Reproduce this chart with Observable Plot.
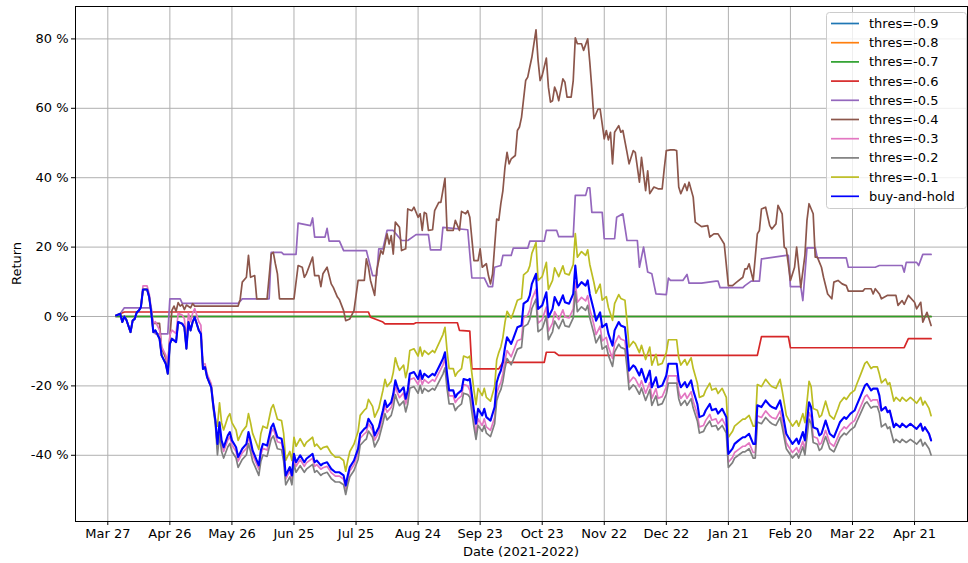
<!DOCTYPE html>
<html>
<head>
<meta charset="utf-8">
<script src="https://cdn.jsdelivr.net/npm/d3@7"></script>
<script src="https://cdn.jsdelivr.net/npm/@observablehq/plot@0.6"></script>
<style>
  body { margin: 0; background: #fff; }
  #chart { width: 968px; height: 563px; }
</style>
</head>
<body>
<div id="chart"></div>
<script>
// Cumulative return of the threshold strategies vs. buy-and-hold, 2021-03-31 .. 2022-04-30.
// Dates are given as day offsets from the first trading day.
const startDay = "2021-03-31";

const xTickDates = ["2021-03-27", "2021-04-26", "2021-05-26", "2021-06-25", "2021-07-25", "2021-08-24",
  "2021-09-23", "2021-10-23", "2021-11-22", "2021-12-22", "2022-01-21", "2022-02-20", "2022-03-22", "2022-04-21"];
const yTicks = [-40, -20, 0, 20, 40, 60, 80];

// Shared day grid for the daily-tracking series
const days = [
  0, 2, 3, 4, 5, 7, 8, 9, 10, 11, 12,
  13, 15, 16, 17,
  18, 19, 21, 22, 24, 25, 26, 27, 29, 30, 32, 33, 34, 35, 36, 37, 38, 40, 41,
  42, 43, 44, 46, 47, 48,
  49, 50, 51, 52, 54, 55, 56, 58, 59, 61, 63, 64, 65, 66, 67, 69, 70, 71, 73, 75,
  76, 78, 80, 81, 82, 84, 85, 86, 87, 89, 91, 92, 95, 96, 97, 99, 100, 102, 104, 106,
  108, 110, 111, 112, 113, 115, 117, 118, 120, 121, 122, 124, 125, 127, 129, 130, 131, 133, 134, 135,
  136, 137, 139, 140, 141, 142, 144, 146, 147, 148, 149, 151, 153, 154, 156, 158, 159, 160, 161, 163,
  164, 165, 167, 168, 170,
  171, 173, 174, 175, 177, 178, 179, 181, 183, 184, 185, 186, 187, 188, 189, 191, 192, 194, 196, 197,
  199, 200, 201, 203, 204, 206, 208, 209, 211, 212, 214, 216, 217, 219, 221, 222, 223, 225, 227, 228,
  229, 231, 232, 234, 235, 237, 238, 240, 241, 243, 244, 246, 247, 248, 250, 251, 253, 254, 256, 258,
  259, 261, 262, 264, 266, 267, 269, 271, 272, 273, 275, 276, 278, 279, 281, 282, 284, 285, 287, 288,
  290, 291, 293, 295, 296, 298, 299, 301, 303, 304, 306, 308, 309, 310, 312, 314, 316, 317, 319, 321,
  322, 324, 325, 327, 329, 330, 332, 333, 335, 336, 337, 339, 340, 341, 343, 344, 345, 347, 349, 350,
  352, 353, 355, 357, 358, 360, 362, 363, 365, 366, 368, 369,
  370, 372, 373, 374, 376, 377, 379, 380, 382, 384, 386, 387, 389, 390, 391, 393, 394
];

const buyHold = [
  0.3, 0.8, -1.6, 0, -1, -4.5, -1.2, -0.7, 1.2, 1.7, 2.7,
  7.8, 7.8, 5.6, 1.2,
  -4.5, -4, -6.4, -11.2, -13.6, -16.5, -7.9, -6.4, -7.4, -1.6, -2.1, -3.1, -9.3, -1.6, -4, -1.6, -0.2, -4, -5,
  -15.1, -14.6, -17.5, -20.4, -25.6, -30,
  -36.7, -30.5, -35.7, -37.7, -34.3, -33.3, -35.7, -37.7, -40.5, -38.1, -36.7, -33.3, -35.7, -38.6, -40, -42.9, -38.6, -36.7, -37.2, -31.9,
  -30.9, -34.8, -35.2, -38.6, -45.8, -43.4, -45.8, -39.6, -42, -40, -42, -41, -39.6, -42, -41.5, -42.9, -42.4, -42, -43.9, -44.9,
  -44.9, -45.8, -48.7, -45.8, -43.4, -41.5, -38.1, -33.8, -32.4, -31.9, -29.5, -31.4, -34.3, -31.9, -27.1, -24.2, -26.1, -24.7, -22.3, -18.4,
  -20.4, -21.8, -20.4, -23.7, -21.3, -16.5, -16, -18, -15.6, -18, -16.5, -17.5, -16.5, -17, -14.6, -12.2, -10.3, -16.5, -21.3, -21.3,
  -23.3, -22.3, -21.3, -18, -18.4,
  -18, -27.1, -30.9, -26.6, -28.5, -26.6, -29, -30, -26.1, -19, -17, -15.6, -13, -9, -6, -7.9, -6.4, -3.1, -2.6, 3.7,
  4.6, 6.1, 9.4, 12.3, 2.2, 3.2, 7, -0.2, 2.2, 5.6, 3.2, 6.1, 4.1, 3.7, 6.5, 14.7, 8.4, 9.9, 8.9, 10.4,
  6.5, 1.7, -1.2, 1.2, -3.1, -2.1, -5, -8.4, -4, -1.6, -2.6, -3.1, -8.8, -15.6, -14.1, -14.6, -17, -15.1, -18.9, -15.6,
  -20.4, -17.5, -20.4, -19.9, -17, -13.6, -13.6, -13.6, -18.4, -20.4, -18.9, -20.4, -18.4, -21.3, -25.2, -29, -28.5, -27.1, -25.2, -27,
  -26.6, -28, -26.6, -29, -39.6, -38.1, -36.7, -35.7, -34.8, -34.8, -33.8, -36.7, -36.7, -25.6, -26.1, -24.2, -25.6, -26.1, -26.6, -24.2,
  -27.1, -33.8, -34.8, -36.7, -35.2, -36.7, -33.3, -35.7, -24.7, -26.1, -31.9, -32.4, -34.3, -33.8, -30, -31.9, -33.8, -34.8, -31.9, -30.4,
  -29, -29.5, -28, -27.1, -25.6, -22.8, -19.9, -19.4, -21.3, -20.8, -20.8, -22.8,
  -27.1, -26.1, -27.6, -27.1, -31.9, -30.9, -31.9, -30.9, -31.9, -30.9, -31.9, -32.4, -30.9, -32.9, -31.9, -33.8, -35.7
];

const thres01 = [
  0.3, 0.8, -1.6, 0, -1, -4.5, -1.2, -0.7, 1.2, 1.7, 2.7,
  7.8, 7.8, 5.6, 1.2,
  -4.5, -4, -6.4, -11.2, -13.6, -16.5, -7.9, -6.4, -7.4, -1.6, -2.1, -3.1, -9.3, -1.6, -4, -1.6, -0.2, -4, -5,
  -15.1, -14.6, -17.5, -20.4, -25.6, -30,
  -31.6, -24.9, -30.6, -32.7, -29.0, -28.0, -30.6, -32.7, -35.7, -33.1, -31.6, -28.0, -30.6, -33.7, -35.2, -38.3, -33.7, -31.6, -32.2, -26.5,
  -25.4, -29.6, -30.0, -33.7, -41.5, -38.9, -41.5, -34.8, -37.4, -35.2, -37.4, -36.3, -34.8, -37.4, -36.8, -38.3, -37.8, -37.4, -39.4, -40.5,
  -40.5, -41.5, -44.6, -41.5, -38.9, -36.8, -33.1, -28.5, -27.0, -26.5, -23.9, -25.9, -29.0, -26.5, -21.3, -18.1, -20.2, -18.7, -16.1, -11.9,
  -14.0, -15.5, -14.0, -17.6, -15.0, -9.8, -9.3, -11.4, -8.8, -11.4, -9.8, -10.9, -9.8, -10.4, -7.8, -5.2, -3.1, -9.8, -15.0, -15.0,
  -17.2, -16.1, -15.0, -11.4, -11.9,
  -11.4, -21.3, -25.4, -20.7, -22.8, -20.7, -23.3, -24.4, -20.2, -12.5, -10.4, -8.8, -6.0, -1.7, 1.5, -0.5, 1.1, 4.7, 5.2, 12.0,
  13.0, 14.6, 18.2, 21.3, 10.4, 11.5, 15.6, 7.8, 10.4, 14.0, 11.5, 14.6, 12.4, 12.0, 15.0, 23.9, 17.1, 18.7, 17.6, 19.2,
  15.0, 9.8, 6.7, 9.3, 4.7, 5.7, 2.6, -1.1, 3.7, 6.3, 5.2, 4.7, -1.5, -8.8, -7.2, -7.8, -10.4, -8.3, -12.4, -8.8,
  -14.0, -10.9, -14.0, -13.5, -10.4, -6.7, -6.7, -6.7, -11.9, -14.0, -12.4, -14.0, -11.9, -15.0, -19.2, -23.3, -22.8, -21.3, -19.2, -21.2,
  -20.7, -22.2, -20.7, -23.3, -34.8, -33.1, -31.6, -30.6, -29.6, -29.6, -28.5, -31.6, -31.6, -19.6, -20.2, -18.1, -19.6, -20.2, -20.7, -18.1,
  -21.3, -28.5, -29.6, -31.6, -30.0, -31.6, -28.0, -30.6, -18.7, -20.2, -26.5, -27.0, -29.0, -28.5, -24.4, -26.5, -28.5, -29.6, -26.5, -24.8,
  -23.3, -23.9, -22.2, -21.3, -19.6, -16.6, -13.5, -13.0, -15.0, -14.5, -14.5, -16.6,
  -19.1, -18.0, -19.6, -19.1, -24.4, -23.3, -24.4, -23.3, -24.4, -23.3, -24.4, -25.0, -23.3, -25.5, -24.4, -26.5, -28.6
];

const thres02 = [
  0.3, 0.8, -1.6, 0, -1, -4.5, -1.2, -0.7, 1.2, 1.7, 2.7,
  7.8, 7.8, 5.6, 1.2,
  -4.5, -4, -6.4, -11.2, -13.6, -16.5, -7.9, -6.4, -7.4, -1.6, -2.1, -3.1, -9.3, -1.6, -4, -1.6, -0.2, -4, -5,
  -15.1, -14.6, -17.5, -20.4, -26.6, -31,
  -39.9, -34.0, -38.9, -40.8, -37.6, -36.6, -38.9, -40.8, -43.5, -41.2, -39.9, -36.6, -38.9, -41.7, -43.0, -45.8, -41.7, -39.9, -40.3, -35.3,
  -34.4, -38.1, -38.4, -41.7, -48.5, -46.2, -48.5, -42.6, -44.9, -43.0, -44.9, -44.0, -42.6, -44.9, -44.4, -45.8, -45.3, -44.9, -46.7, -47.7,
  -47.7, -48.5, -51.3, -48.5, -46.2, -44.4, -41.2, -37.1, -35.8, -35.3, -33.0, -34.8, -37.6, -35.3, -30.7, -28.0, -29.8, -28.5, -26.2, -22.5,
  -24.4, -25.7, -24.4, -27.5, -25.2, -20.7, -20.2, -22.1, -19.8, -22.1, -20.7, -21.6, -20.7, -21.2, -18.9, -16.6, -14.8, -20.7, -25.2, -25.2,
  -27.1, -26.2, -25.2, -22.1, -22.5,
  -23.3, -31.8, -35.4, -31.4, -33.1, -31.4, -33.6, -34.6, -30.9, -24.3, -22.4, -21.1, -18.7, -14.9, -12.1, -13.9, -12.5, -9.4, -8.9, -3.0,
  -2.2, -0.8, 2.3, 5.0, -4.4, -3.5, 0.0, -6.7, -4.4, -1.3, -3.5, -0.8, -2.7, -3.0, -0.4, 7.2, 1.4, 2.8, 1.8, 3.2,
  -0.4, -4.9, -7.6, -5.4, -9.4, -8.5, -11.2, -14.4, -10.2, -8.0, -8.9, -9.4, -14.7, -21.1, -19.7, -20.2, -22.4, -20.6, -24.2, -21.1,
  -25.6, -22.9, -25.6, -25.1, -22.4, -19.2, -19.2, -19.2, -23.7, -25.6, -24.2, -25.6, -23.7, -26.4, -30.1, -33.6, -33.1, -31.8, -30.1, -31.7,
  -31.4, -32.7, -31.4, -33.6, -43.5, -42.1, -40.8, -39.9, -39.0, -39.0, -38.1, -40.8, -40.8, -30.4, -30.9, -29.1, -30.4, -30.9, -31.4, -29.1,
  -31.8, -38.1, -39.0, -40.8, -39.4, -40.8, -37.6, -39.9, -29.6, -30.9, -36.3, -36.8, -38.6, -38.1, -34.6, -36.3, -38.1, -39.0, -36.3, -34.9,
  -33.6, -34.1, -32.7, -31.8, -30.4, -27.8, -25.1, -24.6, -26.4, -26.0, -26.0, -27.8,
  -31.8, -30.9, -32.3, -31.8, -36.3, -35.4, -36.3, -35.4, -36.3, -35.4, -36.3, -36.8, -35.4, -37.3, -36.3, -38.1, -39.9
];

const thres03 = [
  0.3, 0.8, -1.6, 0, -1, -4.5, -1.2, -0.7, 1.2, 1.7, 2.7,
  8.8, 8.8, 6.6, 2.2,
  -2, -1.5, -3.9, -8.7, -11.1, -14, -5.4, -3.9, -4.9, 0.9, 0.4, -0.6, -6.8, 0.9, -1.5, 0.9, 2.3, -1.5, -2.5,
  -14.1, -13.6, -16.5, -19.4, -25.1, -29.5,
  -38.0, -31.9, -37.0, -38.9, -35.6, -34.6, -37.0, -38.9, -41.7, -39.3, -38.0, -34.6, -37.0, -39.8, -41.2, -44.0, -39.8, -38.0, -38.5, -33.3,
  -32.3, -36.1, -36.5, -39.8, -46.9, -44.5, -46.9, -40.8, -43.2, -41.2, -43.2, -42.2, -40.8, -43.2, -42.7, -44.0, -43.6, -43.2, -45.0, -46.0,
  -46.0, -46.9, -49.7, -46.9, -44.5, -42.7, -39.3, -35.1, -33.8, -33.3, -30.9, -32.8, -35.6, -33.3, -28.6, -25.7, -27.6, -26.2, -23.9, -20.0,
  -22.0, -23.4, -22.0, -25.2, -22.9, -18.2, -17.7, -19.6, -17.3, -19.6, -18.2, -19.2, -18.2, -18.7, -16.3, -14.0, -12.1, -18.2, -22.9, -22.9,
  -24.8, -23.9, -22.9, -19.6, -20.0,
  -21.3, -30.0, -33.7, -29.5, -31.4, -29.5, -31.8, -32.8, -29.1, -22.2, -20.3, -19.0, -16.5, -12.6, -9.8, -11.6, -10.1, -7.0, -6.5, -0.4,
  0.4, 1.9, 5.0, 7.8, -1.9, -0.9, 2.7, -4.2, -1.9, 1.4, -0.9, 1.9, -0.1, -0.4, 2.2, 10.1, 4.1, 5.5, 4.5, 6.0,
  2.2, -2.4, -5.2, -2.8, -7.0, -6.0, -8.8, -12.1, -7.8, -5.5, -6.5, -7.0, -12.4, -19.0, -17.5, -18.0, -20.3, -18.5, -22.1, -19.0,
  -23.6, -20.8, -23.6, -23.1, -20.3, -17.1, -17.1, -17.1, -21.7, -23.6, -22.1, -23.6, -21.7, -24.4, -28.2, -31.8, -31.4, -30.0, -28.2, -29.9,
  -29.5, -30.9, -29.5, -31.8, -42.0, -40.6, -39.2, -38.3, -37.4, -37.4, -36.4, -39.2, -39.2, -28.6, -29.1, -27.2, -28.6, -29.1, -29.5, -27.2,
  -30.0, -36.4, -37.4, -39.2, -37.8, -39.2, -36.0, -38.3, -27.7, -29.1, -34.6, -35.1, -36.9, -36.4, -32.8, -34.6, -36.4, -37.4, -34.6, -33.2,
  -31.8, -32.3, -30.9, -30.0, -28.6, -25.9, -23.1, -22.6, -24.4, -24.0, -24.0, -25.9,
  -27.1, -26.1, -27.6, -27.1, -31.9, -30.9, -31.9, -30.9, -31.9, -30.9, -31.9, -32.4, -30.9, -32.9, -31.9, -33.8, -35.7
];

// Strategies that spend long stretches out of the market: [day, return %]
const thres04 = [
  [0, 0.3], [2, 0.8], [3, -1.6], [4, 0], [5, -1], [7, -4.5], [8, -1.2], [9, -0.7], [10, 1.2], [11, 1.7], [12, 2.7],
  [13, 7.8], [15, 7.8], [16, 5.6], [17, 1.2], [18, -2], [21, -2], [22, -9], [24, -12], [25, -14], [26, -6], [27, 1.8],
  [28, 3], [29, 1.5], [30, 4], [31, 3], [32, 3.5], [33, 2], [34, 3.3], [36, 2.5], [37, 3.7], [38, 3], [59, 3], [60, 5],
  [61, 9.9], [63, 11.3], [64, 17.6], [65, 11.3], [67, 11.8], [68, 5.1], [73, 5.1], [75, 18], [76, 18.5], [77, 15.2],
  [78, 12.3], [79, 5.1], [86, 5.1], [88, 14.7], [90, 14.2], [91, 11.3], [92, 12.3], [95, 17.1], [96, 11.8], [98, 11.8],
  [99, 8.6], [100, 12.3], [102, 14.2], [104, 9.4], [105, 8.4], [107, 5.6], [108, 4.8], [110, 1.7], [111, -1.2], [113, -0.7],
  [115, 1.7], [117, 10.4], [120, 10.4], [121, 16.6], [122, 14.2], [123, 10.4], [125, 6.1], [126, 13.3], [128, 19], [129, 18],
  [131, 23.8], [132, 20.9], [133, 23.3], [134, 18], [135, 27.2], [137, 25.7], [138, 19], [140, 19.5], [141, 31], [143, 30.5],
  [144, 31.5], [146, 28.6], [147, 29.6], [148, 24.8], [149, 30], [150, 29.6], [151, 24.8], [153, 25], [154, 30.5], [156, 32.9],
  [157, 32.9], [159, 39.8], [160, 24.8], [163, 24.8], [164, 27.7], [166, 24.8], [167, 30.3], [169, 29.6], [170, 30.5], [171, 28.6],
  [173, 16.1], [175, 16.1], [176, 19.5], [177, 14.2], [179, 15.2], [180, 11.8], [181, 9.4], [182, 12.3], [184, 28.1], [185, 27.7],
  [186, 32.5], [187, 36.3], [188, 43], [189, 47.3], [190, 44], [191, 45.4], [193, 46.4], [194, 53.6], [195, 54.6], [196, 57.4],
  [198, 68], [199, 69], [200, 71.9], [201, 74.7], [203, 82.6], [204, 73.8], [205, 68], [206, 69.5], [208, 74.5], [209, 66.1],
  [210, 61.8], [211, 62.2], [212, 66.1], [213, 64.6], [214, 62.2], [216, 68.5], [217, 67.5], [218, 63.2], [220, 63.2], [221, 68],
  [222, 80.3], [223, 78.6], [225, 78.6], [226, 76.7], [228, 80], [229, 73.3], [230, 65.6], [231, 57], [233, 59.8], [234, 59.8],
  [236, 51.2], [237, 53.6], [238, 50.9], [239, 53.1], [240, 44], [241, 53.1], [243, 55], [244, 53.1], [245, 53.6], [247, 47.3],
  [248, 44], [250, 47.8], [251, 47.3], [253, 38.7], [254, 45.9], [256, 36.3], [257, 42], [258, 35.4], [260, 37.3], [262, 36.8],
  [264, 36.8], [265, 42.6], [266, 47.8], [268, 48], [270, 48], [271, 47.8], [272, 37.3], [273, 35.4], [275, 38.2], [276, 36.3],
  [277, 38.7], [279, 34.4], [280, 27.2], [283, 25.9], [286, 26.2], [287, 22.9], [289, 23.8], [291, 23.8], [294, 20.9], [296, 8.9],
  [298, 8.9], [300, 9.9], [303, 11.3], [304, 13.7], [305, 13.7], [306, 15.2], [308, 10.4], [310, 23.8], [311, 24.8], [312, 31],
  [314, 31.5], [316, 26.2], [317, 25.2], [319, 26.7], [320, 32], [322, 29.6], [323, 20], [324, 19.5], [326, 10.4], [328, 14.2],
  [329, 20], [331, 8.4], [333, 17.6], [334, 27.7], [335, 32.5], [337, 29.6], [338, 17.1], [339, 17.1], [341, 14.2], [342, 11.3],
  [344, 6.5], [346, 5.1], [347, 9.9], [349, 10.4], [351, 9.4], [353, 8.9], [354, 7.3], [361, 7.3], [362, 8], [365, 8],
  [366, 6.5], [367, 8], [369, 6.5], [370, 5.1], [373, 6.1], [377, 6.1], [378, 3.2], [380, 4.6], [381, 3.5], [383, 6.1],
  [386, 4.1], [387, 2.2], [389, 4.1], [390, -1.6], [392, 1.2], [394, -2.6]
];

const thres05 = [
  [0, 0.3], [2, 0.8], [4, 2.5], [17, 2.5], [18, -4], [19, -5], [25, -5], [26, 5.1], [31, 5.1], [32, 3.8],
  [59, 3.8], [61, 5.1], [74, 5.1], [75, 18.5], [80, 18.5], [81, 17.9], [87, 17.9], [88, 26.9], [94, 26.2], [95, 28.4],
  [96, 22.9], [101, 22.9], [102, 25.4], [103, 21.7], [108, 21.7], [110, 19], [121, 19], [124, 11.8], [126, 11.8], [127, 19.5],
  [129, 19.5], [131, 24.8], [134, 24.8], [138, 21.9], [141, 21.9], [145, 23.6], [151, 23.6], [152, 19.2], [157, 19.2], [158, 25.7],
  [170, 25], [172, 11.1], [178, 11.1], [180, 8.6], [182, 8.6], [183, 14.2], [186, 14.7], [187, 17.6], [191, 17.6], [192, 19.7],
  [199, 19.7], [200, 21.7], [207, 21.7], [208, 24.8], [213, 24.8], [214, 23], [221, 23], [222, 34.9], [227, 34.9], [228, 37.1],
  [229, 37.1], [230, 30], [235, 30], [236, 22.4], [241, 22.4], [242, 28.6], [245, 29.6], [247, 21.9], [252, 21.9], [253, 14.2],
  [255, 20], [257, 12.8], [259, 12.3], [261, 6.5], [266, 6.3], [267, 11.1], [268, 10.4], [274, 10.4], [276, 12.1], [277, 9.6],
  [283, 9.6], [290, 10.2], [291, 10.2], [292, 8.3], [303, 8.3], [304, 8.9], [307, 10.2], [311, 10.2], [312, 16.6], [324, 17.6],
  [325, 17.6], [326, 8.6], [331, 8.6], [332, 4.6], [334, 19.8], [338, 19.8], [339, 16.9], [353, 16.9], [354, 14.2], [367, 14.2],
  [369, 14.7], [380, 14.7], [381, 12.8], [382, 15.6], [387, 15.6], [388, 14.7], [390, 17.9], [394, 17.9]
];

const thres06 = [
  [0, 0.3], [2, 0.8], [4, 1.3], [122, 1.3], [123, -0.2], [129, -1.6], [130, -2.1], [144, -2.1], [145, -1.8], [165, -1.8],
  [166, -4], [171, -4.2], [172, -15.1], [185, -15.1], [187, -13.2], [207, -13.2], [208, -10.3], [212, -10.3], [214, -11.2], [310, -11.2],
  [312, -5.8], [325, -5.8], [326, -9], [381, -9], [383, -6.4], [394, -6.4]
];

// These three never entered the market
const thres07 = [[0, 0], [394, 0]];
const thres08 = [[0, 0], [394, 0]];
const thres09 = [[0, 0], [394, 0]];

const DAY = 864e5;
const t0 = Date.parse(startDay + "T00:00:00Z");
const toDate = d => new Date(t0 + d * DAY);

const fromGrid = vals => days.map((d, i) => ({date: toDate(d), value: vals[i]}));
const fromPairs = pairs => pairs.map(([d, v]) => ({date: toDate(d), value: v}));

// Drawing order: first listed is drawn first (underneath)
const series = [
  {label: "thres=-0.9", color: "#1f77b4", width: 1.7, rows: fromPairs(thres09)},
  {label: "thres=-0.8", color: "#ff7f0e", width: 1.7, rows: fromPairs(thres08)},
  {label: "thres=-0.7", color: "#2ca02c", width: 1.7, rows: fromPairs(thres07)},
  {label: "thres=-0.6", color: "#d62728", width: 1.7, rows: fromPairs(thres06)},
  {label: "thres=-0.5", color: "#9467bd", width: 1.7, rows: fromPairs(thres05)},
  {label: "thres=-0.4", color: "#8c564b", width: 1.7, rows: fromPairs(thres04)},
  {label: "thres=-0.3", color: "#e377c2", width: 1.7, rows: fromGrid(thres03)},
  {label: "thres=-0.2", color: "#7f7f7f", width: 1.7, rows: fromGrid(thres02)},
  {label: "thres=-0.1", color: "#bcbd22", width: 1.7, rows: fromGrid(thres01)},
  {label: "buy-and-hold", color: "#0000ff", width: 2.1, rows: fromGrid(buyHold)}
];

const xTicks = xTickDates.map(s => new Date(s + "T00:00:00Z"));
const fmtDate = d3.utcFormat("%b %d");

const chart = Plot.plot({
  width: 968,
  height: 563,
  marginLeft: 75,
  marginRight: 1,
  marginTop: 6,
  marginBottom: 42,
  style: {fontFamily: "DejaVu Sans, sans-serif", fontSize: "13px", color: "#000", background: "#fff"},
  x: {type: "utc", domain: [toDate(-19.62), toDate(411.6)]},
  y: {domain: [-59.08, 89.34]},
  marks: [
    Plot.gridX(xTicks, {stroke: "#b0b0b0", strokeOpacity: 1, strokeWidth: 1}),
    Plot.gridY(yTicks, {stroke: "#b0b0b0", strokeOpacity: 1, strokeWidth: 1}),
    ...series.map(s => Plot.line(s.rows, {x: "date", y: "value", stroke: s.color, strokeWidth: s.width})),
    Plot.frame({stroke: "#000", strokeWidth: 1}),
    Plot.axisX(xTicks, {tickFormat: fmtDate, tickSize: 4, tickPadding: 3, label: null, fontSize: 13}),
    Plot.axisY(yTicks, {tickFormat: d => `${d} %`, tickSize: 4, tickPadding: 3, label: null, fontSize: 13})
  ]
});

document.getElementById("chart").appendChild(chart);

// Axis titles and legend
const svg = d3.select(chart);
svg.append("text")
  .attr("x", 521).attr("y", 556)
  .attr("text-anchor", "middle")
  .attr("font-size", 13).attr("fill", "#000")
  .text("Date (2021-2022)");
svg.append("text")
  .attr("transform", "translate(21,263.5) rotate(-90)")
  .attr("text-anchor", "middle")
  .attr("font-size", 13).attr("fill", "#000")
  .text("Return");

const legend = svg.append("g").attr("text-anchor", "start");
legend.append("rect")
  .attr("x", 826.5).attr("y", 12.5).attr("width", 140).attr("height", 196)
  .attr("rx", 3).attr("fill", "#fff").attr("fill-opacity", 0.8)
  .attr("stroke", "#cccccc").attr("stroke-width", 1);
series.forEach((s, i) => {
  const y = 23.5 + i * 19.2;
  legend.append("line")
    .attr("x1", 831).attr("x2", 859).attr("y1", y).attr("y2", y)
    .attr("stroke", s.color).attr("stroke-width", 1.7);
  legend.append("text")
    .attr("x", 869).attr("y", y).attr("dy", "0.35em")
    .attr("text-anchor", "start")
    .attr("font-size", 13).attr("fill", "#000")
    .text(s.label);
});
</script>
</body>
</html>
